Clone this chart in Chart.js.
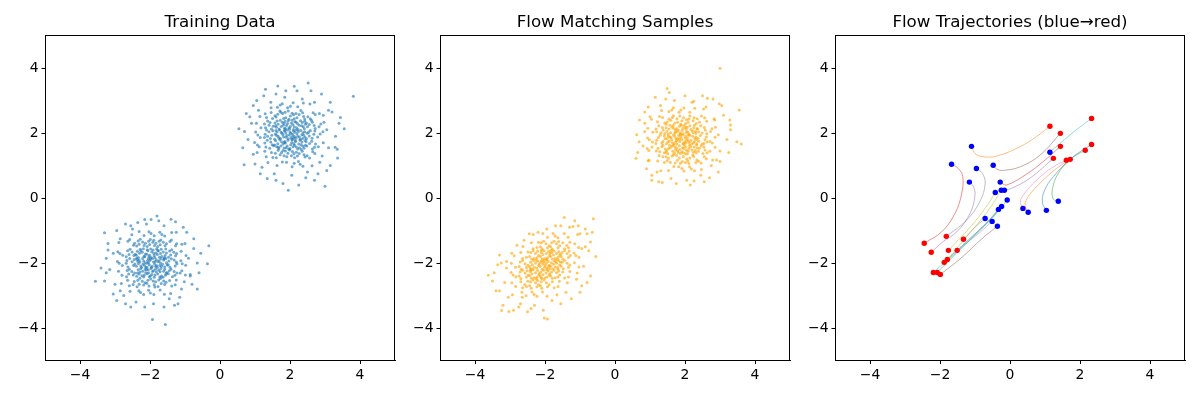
<!DOCTYPE html>
<html><head><meta charset="utf-8">
<script src="https://cdn.jsdelivr.net/npm/chart.js@4.4.1/dist/chart.umd.min.js"></script>
<style>
body{margin:0;background:#fff;width:1200px;height:400px;overflow:hidden;position:relative;font-family:'DejaVu Sans',sans-serif}
.p{position:absolute;top:0;width:400px;height:400px}
.p canvas{position:absolute;left:0;top:0}
.t{position:absolute;left:45px;width:350px;top:11px;text-align:center;font-size:16.7px;line-height:20px;color:#000;white-space:nowrap}
.f{position:absolute;left:45px;top:35px;width:350px;height:326px;border:1px solid #000;box-sizing:border-box;pointer-events:none}
</style></head><body>
<div class="p" style="left:0"><canvas id="c1" width="400" height="400"></canvas><div class="f"></div><div class="t" id="t1"></div></div>
<div class="p" style="left:395px"><canvas id="c2" width="400" height="400"></canvas><div class="f"></div><div class="t" id="t2"></div></div>
<div class="p" style="left:790px"><canvas id="c3" width="400" height="400"></canvas><div class="f"></div><div class="t" id="t3"></div></div>
<script>
const titles = ['Training Data', 'Flow Matching Samples', 'Flow Trajectories (blue\u2192red)'];
const tickValues = [-4, -2, 0, 2, 4];
const axisMin = -5, axisMax = 5;

const trainUpper = [
[1.88,2.00],[2.03,1.86],[2.10,2.06],[1.95,1.82],[2.07,1.97],[1.91,1.92],[2.13,1.89],[2.00,2.03],[1.98,1.94],[2.05,1.81],[1.86,2.08],[2.11,1.84],[1.93,2.09],[2.02,1.99],[2.08,1.91],[1.89,1.87],[2.14,2.02],
[2.20,1.98],[2.36,1.83],[2.42,2.04],[2.27,1.88],[2.31,2.08],[2.17,1.84],[2.39,1.93],[2.24,2.05],[2.34,1.95],[2.29,1.81],[2.43,1.87],[2.22,1.90],[2.37,2.01],[2.18,2.09],
[1.58,1.97],[1.73,1.83],[1.84,2.06],[1.66,1.90],[1.70,2.09],[1.56,1.81],[1.80,1.95],[1.63,2.03],[1.77,1.99],[1.68,1.85],[1.82,1.88],[1.61,1.93],[1.75,2.02],[1.60,2.08],
[1.87,2.14],[2.04,2.31],[2.12,2.19],[1.95,2.38],[1.99,2.12],[2.08,2.26],[1.90,2.23],[2.14,2.35],[2.01,2.20],[1.93,2.29],[2.10,2.11],[1.86,2.36],[2.06,2.39],[1.97,2.16],
[1.89,1.55],[2.05,1.71],[2.13,1.62],[1.94,1.78],[2.00,1.52],[2.09,1.58],[1.87,1.69],[2.15,1.76],[2.02,1.64],[1.92,1.60],[2.07,1.79],[1.96,1.51],[1.85,1.74],[2.11,1.67],
[2.19,2.16],[2.35,2.32],[2.41,2.13],[2.26,2.24],[2.30,2.38],[2.44,2.27],[2.17,2.34],[2.38,2.19],[2.23,2.11],[2.33,2.22],[2.42,2.36],[2.21,2.29],
[1.61,2.18],[1.78,2.33],[1.84,2.14],[1.66,2.27],[1.72,2.39],[1.57,2.31],[1.81,2.24],[1.69,2.12],[1.75,2.20],[1.63,2.37],[1.83,2.30],[1.59,2.22],
[2.18,1.57],[2.34,1.72],[2.40,1.53],[2.25,1.66],[2.29,1.78],[2.44,1.62],[2.16,1.74],[2.37,1.59],[2.22,1.51],[2.32,1.64],[2.43,1.77],[2.27,1.55],
[1.62,1.58],[1.76,1.73],[1.83,1.54],[1.65,1.67],[1.71,1.79],[1.56,1.63],[1.80,1.66],[1.68,1.52],[1.74,1.60],[1.59,1.76],[1.84,1.71],[1.67,1.56],
[2.49,1.99],[2.63,1.84],[2.71,2.06],[2.55,1.91],[2.58,2.08],[2.47,1.82],[2.68,1.96],[2.53,2.02],
[1.29,1.96],[1.44,1.83],[1.51,2.07],[1.36,1.90],[1.40,2.04],[1.27,1.86],[1.48,1.93],[1.33,2.09],
[1.88,2.47],[2.06,2.61],[2.12,2.44],[1.95,2.68],[2.01,2.52],[1.86,2.64],[2.10,2.56],[1.97,2.42],
[1.91,1.27],[2.07,1.43],[2.13,1.24],[1.94,1.38],[1.99,1.48],[2.04,1.30],[1.87,1.45],[2.11,1.36],
[2.50,2.19],[2.64,2.33],[2.72,2.14],[2.55,2.26],[2.61,2.39],[2.47,2.31],[2.69,2.23],
[2.48,1.60],[2.62,1.75],[2.70,1.56],[2.56,1.68],[2.64,1.51],[2.46,1.73],[2.73,1.66],
[1.30,2.16],[1.43,2.32],[1.52,2.21],[1.36,2.37],[1.47,2.12],[1.27,2.28],[1.40,2.24],
[1.31,1.57],[1.45,1.72],[1.53,1.61],[1.35,1.78],[1.42,1.53],[1.28,1.69],[1.49,1.64],
[2.20,2.47],[2.36,2.62],[2.42,2.43],[2.26,2.57],[2.31,2.69],[2.17,2.60],[2.39,2.51],
[1.60,2.49],[1.74,2.64],[1.82,2.45],[1.65,2.58],[1.71,2.68],[1.57,2.53],[1.79,2.60],
[2.21,1.29],[2.35,1.44],[2.43,1.26],[2.26,1.37],[2.32,1.49],[2.18,1.41],[2.40,1.33],
[1.61,1.24],[1.76,1.40],[1.83,1.30],[1.66,1.47],[1.72,1.33],[1.58,1.38],[1.80,1.46],
[2.51,2.50],[2.66,2.62],[2.58,2.44],[2.72,2.57],[1.33,2.48],[1.46,2.63],[1.29,2.59],[1.50,2.45],
[2.49,1.30],[2.65,1.42],[2.56,1.23],[2.71,1.37],[1.32,1.27],[1.47,1.40],[1.28,1.44],[1.51,1.25],
[2.79,1.88],[2.94,2.04],[2.86,1.97],[1.02,2.03],[1.15,1.86],[1.08,1.94],[1.93,2.78],[2.09,2.93],[2.01,2.82],[1.90,1.10],[2.06,0.96],[2.12,1.07],
[2.83,2.19],[2.97,2.33],[2.88,2.28],[2.81,1.58],[2.95,1.70],[1.04,2.30],[1.17,2.16],[1.12,1.58],[0.99,1.71],[1.07,1.63],
[2.22,2.81],[2.38,2.92],[1.64,2.79],[1.78,2.90],[1.72,2.86],[2.24,1.12],[2.37,0.98],[2.29,1.04],[1.63,1.00],[1.78,1.11],
[2.84,2.60],[2.92,1.29],[1.14,2.51],[1.06,1.40],[2.57,2.89],[1.46,2.78],[2.63,0.99],[1.37,1.09],
[3.05,2.10],[2.95,2.55],[2.70,2.95],[2.35,3.05],[1.85,3.10],[1.45,2.95],[1.10,2.70],[0.90,2.30],[0.80,1.80],[0.95,1.35],[1.20,0.95],[1.55,0.75],[2.05,0.70],[2.50,0.80],[2.85,1.10],[3.10,1.55],[3.30,1.90],[3.20,2.65],[2.90,3.20],[2.20,3.30],
[1.60,3.20],[1.05,3.00],[0.75,2.60],[0.65,1.55],[1.00,1.05],[1.35,0.60],[1.80,0.45],[2.70,0.55],[3.05,0.85],[3.35,1.50],[2.60,3.30],[1.30,3.35],[0.95,2.85],[3.40,2.30],[2.25,0.40],[1.15,0.75],[3.15,2.95],[0.70,2.05],[2.80,0.75],[1.65,3.45],
[2.52,3.54],[3.81,3.13],[2.12,3.44],[0.54,2.13],[0.69,1.02],[3.00,0.36],[1.95,0.24],[3.55,2.13],[3.44,2.48],[3.36,1.23],[3.29,1.56],[1.88,3.30],[1.25,3.15],[2.45,0.62],[1.60,0.55],[3.10,2.70],[0.85,2.50],[3.15,1.00]
];
const trainLower = [
[-2.07,-1.93],[-1.84,-2.11],[-1.99,-1.88],[-2.02,-2.06],[-1.90,-1.97],[-2.09,-2.13],[-1.82,-1.90],[-1.96,-2.14],[-2.04,-1.99],[-1.87,-2.03],[-1.93,-1.86],[-2.08,-2.01],[-1.81,-2.08],[-2.00,-1.92],[-1.94,-2.10],[-1.85,-1.95],[-2.05,-1.87],
[-1.77,-1.96],[-1.58,-2.12],[-1.69,-1.87],[-1.53,-1.99],[-1.72,-2.08],[-1.61,-1.91],[-1.79,-2.14],[-1.64,-2.04],[-1.55,-1.86],[-1.74,-1.93],[-1.67,-2.10],[-1.51,-2.06],[-1.70,-2.00],[-1.60,-1.88],
[-2.37,-1.89],[-2.16,-2.07],[-2.29,-1.97],[-2.12,-2.13],[-2.33,-2.02],[-2.21,-1.86],[-2.39,-2.10],[-2.18,-1.94],[-2.26,-2.09],[-2.14,-1.99],[-2.31,-1.91],[-2.24,-2.14],[-2.35,-1.95],[-2.20,-2.03],
[-2.06,-1.62],[-1.88,-1.78],[-1.98,-1.57],[-1.83,-1.69],[-2.03,-1.81],[-1.91,-1.60],[-2.09,-1.73],[-1.86,-1.84],[-1.95,-1.66],[-2.01,-1.76],[-1.81,-1.56],[-1.97,-1.83],[-2.08,-1.59],[-1.89,-1.71],
[-2.05,-2.21],[-1.86,-2.37],[-1.97,-2.17],[-1.82,-2.28],[-2.02,-2.42],[-1.90,-2.24],[-2.08,-2.33],[-1.84,-2.19],[-1.99,-2.40],[-1.93,-2.26],[-2.10,-2.20],[-1.88,-2.44],[-2.04,-2.30],[-1.95,-2.35],
[-1.76,-1.63],[-1.57,-1.77],[-1.68,-1.58],[-1.53,-1.69],[-1.73,-1.82],[-1.62,-1.66],[-1.79,-1.74],[-1.59,-1.84],[-1.70,-1.71],[-1.55,-1.57],[-1.66,-1.80],[-1.78,-1.61],
[-2.36,-1.64],[-2.17,-1.79],[-2.28,-1.58],[-2.13,-1.72],[-2.33,-1.83],[-2.22,-1.67],[-2.39,-1.76],[-2.19,-1.56],[-2.30,-1.70],[-2.15,-1.81],[-2.26,-1.62],[-2.38,-1.85],
[-1.75,-2.22],[-1.56,-2.38],[-1.69,-2.17],[-1.52,-2.29],[-1.72,-2.43],[-1.61,-2.25],[-1.78,-2.34],[-1.58,-2.19],[-1.67,-2.40],[-1.54,-2.32],[-1.71,-2.27],[-1.63,-2.44],
[-2.34,-2.21],[-2.16,-2.37],[-2.27,-2.18],[-2.12,-2.29],[-2.38,-2.41],[-2.21,-2.25],[-2.31,-2.34],[-2.18,-2.43],[-2.29,-2.28],[-2.14,-2.20],[-2.36,-2.31],[-2.23,-2.39],
[-1.46,-1.94],[-1.28,-2.09],[-1.39,-1.87],[-1.23,-2.02],[-1.43,-2.13],[-1.31,-1.91],[-1.48,-2.05],[-1.25,-1.97],
[-2.66,-1.92],[-2.47,-2.08],[-2.58,-1.86],[-2.43,-2.03],[-2.63,-2.12],[-2.51,-1.96],[-2.68,-2.01],[-2.45,-1.89],
[-2.04,-1.33],[-1.87,-1.46],[-1.99,-1.28],[-1.83,-1.39],[-2.08,-1.49],[-1.92,-1.36],[-2.01,-1.43],[-1.89,-1.30],
[-2.06,-2.53],[-1.88,-2.67],[-1.98,-2.49],[-1.84,-2.58],[-2.03,-2.71],[-1.91,-2.55],[-2.09,-2.62],[-1.86,-2.74],
[-1.44,-1.63],[-1.27,-1.78],[-1.38,-1.59],[-1.24,-1.71],[-1.47,-1.82],[-1.32,-1.67],[-1.41,-1.75],
[-1.45,-2.24],[-1.29,-2.38],[-1.40,-2.19],[-1.23,-2.31],[-1.36,-2.42],[-1.48,-2.33],[-1.31,-2.26],
[-2.64,-1.62],[-2.46,-1.77],[-2.57,-1.58],[-2.42,-1.73],[-2.68,-1.81],[-2.51,-1.66],[-2.60,-1.74],
[-2.65,-2.23],[-2.48,-2.37],[-2.59,-2.19],[-2.44,-2.31],[-2.67,-2.42],[-2.52,-2.26],[-2.61,-2.34],
[-1.74,-1.33],[-1.57,-1.47],[-1.69,-1.29],[-1.53,-1.41],[-1.78,-1.49],[-1.62,-1.36],[-1.71,-1.44],
[-2.34,-1.32],[-2.17,-1.46],[-2.28,-1.27],[-2.13,-1.39],[-2.38,-1.48],[-2.21,-1.35],[-2.31,-1.42],
[-1.75,-2.52],[-1.58,-2.66],[-1.70,-2.48],[-1.54,-2.59],[-1.77,-2.72],[-1.61,-2.55],[-1.68,-2.63],
[-2.35,-2.53],[-2.18,-2.68],[-2.29,-2.47],[-2.14,-2.61],[-2.37,-2.73],[-2.22,-2.56],[-2.31,-2.65],
[-1.43,-1.34],[-1.27,-1.47],[-1.39,-1.29],[-1.24,-1.41],[-2.63,-1.33],[-2.47,-1.45],[-2.58,-1.28],[-2.44,-1.39],
[-1.44,-2.54],[-1.28,-2.67],[-1.38,-2.71],[-1.25,-2.52],[-2.64,-2.53],[-2.48,-2.66],[-2.59,-2.70],[-2.45,-2.57],
[-1.12,-1.93],[-0.98,-2.07],[-1.08,-2.02],[-2.93,-1.95],[-2.79,-2.08],[-2.88,-2.01],[-2.03,-1.04],[-1.88,-1.16],[-1.97,-1.09],[-2.04,-2.84],[-1.89,-2.97],[-1.99,-2.92],
[-1.11,-1.64],[-0.97,-1.77],[-1.09,-2.24],[-0.99,-2.37],[-1.14,-2.31],[-2.92,-1.65],[-2.78,-1.76],[-2.86,-1.71],[-2.90,-2.25],[-2.80,-2.38],
[-1.72,-1.05],[-1.58,-1.17],[-1.66,-1.12],[-2.31,-1.03],[-2.17,-1.15],[-1.71,-2.83],[-1.59,-2.96],[-2.32,-2.85],[-2.18,-2.97],[-2.27,-2.91],
[-1.09,-1.42],[-1.02,-2.58],[-2.89,-1.37],[-2.82,-2.63],[-1.38,-1.06],[-2.52,-1.13],[-1.41,-2.94],[-2.57,-2.87],
[-0.90,-1.85],[-1.00,-1.40],[-1.25,-1.05],[-1.60,-0.85],[-2.10,-0.80],[-2.50,-0.95],[-2.85,-1.25],[-3.05,-1.70],[-3.15,-2.20],[-3.00,-2.65],[-2.75,-3.00],[-2.40,-3.20],[-1.90,-3.25],[-1.45,-3.10],[-1.10,-2.80],[-0.85,-2.35],[-0.65,-2.00],[-0.75,-1.25],[-1.05,-0.90],[-1.75,-0.70],
[-2.35,-0.75],[-2.95,-1.00],[-3.25,-1.85],[-3.30,-2.55],[-2.95,-3.15],[-2.15,-3.35],[-1.60,-3.35],[-1.15,-3.05],[-0.80,-2.65],[-0.55,-1.70],[-1.40,-0.65],[-2.70,-0.80],[-3.20,-1.40],[-0.60,-2.30],[-2.55,-3.35],[-1.30,-3.30],[-3.40,-2.15],[-0.95,-1.05],[-2.85,-2.85],[-1.80,-0.55],
[-3.56,-2.56],[-1.93,-3.74],[-1.56,-3.89],[-0.36,-2.02],[-0.32,-1.47],[-2.15,-0.66],[-1.97,-0.66],[-1.27,-0.73],[-3.30,-1.07],[-0.65,-2.80],[-2.70,-3.25],[-3.25,-2.30],[-0.75,-1.55],[-1.20,-3.25],[-2.55,-0.85],[-3.05,-2.95],[-0.85,-2.40],[-3.20,-1.60]
];
const flowUpper = [
[1.79,1.83],[1.96,1.68],[2.02,1.91],[1.85,1.74],[1.93,1.94],[1.77,1.66],[2.04,1.78],[1.88,1.87],[1.99,1.72],[1.82,1.92],[1.91,1.80],[2.00,1.85],[1.76,1.77],[1.94,1.67],[1.87,1.95],[2.03,1.70],[1.84,1.81],
[2.09,1.76],[2.24,1.69],[2.31,1.88],[2.14,1.93],[2.27,1.74],[2.07,1.85],[2.19,1.66],[2.33,1.80],[2.12,1.71],[2.22,1.90],[2.28,1.83],[2.17,1.78],[2.34,1.67],[2.10,1.94],
[1.49,1.83],[1.64,1.70],[1.71,1.90],[1.55,1.75],[1.67,1.94],[1.47,1.67],[1.60,1.86],[1.73,1.72],[1.52,1.91],[1.62,1.79],[1.69,1.66],[1.57,1.88],[1.74,1.82],[1.51,1.72],
[1.78,2.04],[1.95,1.98],[2.01,2.17],[1.84,2.21],[1.92,2.08],[1.76,2.14],[2.04,2.02],[1.87,1.97],[1.98,2.23],[1.81,2.09],[1.94,2.15],[2.03,2.11],[1.86,2.00],[1.90,2.24],
[1.79,1.45],[1.95,1.39],[2.02,1.58],[1.84,1.61],[1.91,1.42],[1.76,1.53],[2.04,1.47],[1.87,1.37],[1.98,1.63],[1.81,1.40],[1.93,1.55],[2.01,1.36],[1.85,1.49],[1.97,1.52],
[2.08,2.03],[2.25,2.16],[2.31,1.99],[2.14,2.22],[2.21,2.07],[2.34,2.13],[2.11,1.97],[2.27,2.24],[2.17,2.11],[2.30,2.05],[2.06,2.18],[2.23,2.01],
[1.48,2.05],[1.63,2.18],[1.71,1.99],[1.54,2.12],[1.66,2.23],[1.46,2.16],[1.59,2.01],[1.74,2.09],[1.52,1.97],[1.68,2.14],[1.57,2.24],[1.72,2.04],
[2.09,1.44],[2.26,1.57],[2.32,1.39],[2.13,1.62],[2.20,1.48],[2.35,1.54],[2.07,1.36],[2.24,1.41],[2.16,1.58],[2.29,1.46],[2.11,1.52],[2.33,1.63],
[1.48,1.46],[1.63,1.59],[1.70,1.38],[1.53,1.52],[1.67,1.63],[1.46,1.41],[1.58,1.55],[1.73,1.48],[1.51,1.36],[1.65,1.44],[1.56,1.62],[1.72,1.57],
[2.39,1.75],[2.54,1.68],[2.61,1.88],[2.44,1.92],[2.57,1.79],[2.37,1.84],[2.49,1.66],[2.63,1.72],
[1.19,1.78],[1.34,1.69],[1.41,1.91],[1.24,1.86],[1.37,1.74],[1.17,1.68],[1.29,1.93],[1.43,1.82],
[1.79,2.33],[1.96,2.47],[2.02,2.29],[1.85,2.52],[1.91,2.38],[1.77,2.44],[2.04,2.41],[1.88,2.27],
[1.78,1.16],[1.95,1.28],[2.01,1.09],[1.84,1.23],[1.92,1.12],[1.76,1.31],[2.05,1.20],[1.87,1.07],
[2.39,2.04],[2.55,2.17],[2.62,1.98],[2.45,2.22],[2.58,2.09],[2.36,2.13],[2.49,2.00],
[2.38,1.44],[2.54,1.57],[2.63,1.39],[2.46,1.61],[2.57,1.48],[2.41,1.53],[2.51,1.37],
[1.19,2.04],[1.35,2.17],[1.42,1.98],[1.25,2.22],[1.38,2.09],[1.17,2.12],[1.31,2.01],
[1.18,1.45],[1.34,1.58],[1.41,1.39],[1.23,1.53],[1.37,1.62],[1.28,1.42],[1.44,1.51],
[2.09,2.33],[2.26,2.47],[2.32,2.29],[2.14,2.52],[2.23,2.38],[2.35,2.44],[2.11,2.43],
[1.49,2.34],[1.64,2.48],[1.71,2.30],[1.54,2.43],[1.67,2.53],[1.46,2.27],[1.59,2.39],
[2.08,1.14],[2.25,1.28],[2.31,1.09],[2.14,1.23],[2.22,1.32],[2.34,1.17],[2.11,1.06],
[1.49,1.15],[1.63,1.29],[1.72,1.08],[1.53,1.22],[1.67,1.33],[1.46,1.27],[1.58,1.10],
[2.41,2.33],[2.56,2.47],[2.47,2.52],[2.62,2.36],[1.21,2.35],[1.36,2.48],[1.27,2.51],[1.42,2.31],
[2.39,1.13],[2.55,1.27],[2.46,1.08],[2.61,1.21],[1.22,1.14],[1.37,1.27],[1.26,1.31],[1.41,1.09],
[2.71,1.74],[2.86,1.87],[2.78,1.69],[0.93,1.85],[1.07,1.72],[0.98,1.79],[1.83,2.64],[1.97,2.77],[1.88,2.71],[1.82,0.96],[1.97,0.83],[1.91,0.91],
[2.73,2.05],[2.87,2.18],[2.77,2.13],[2.71,1.44],[2.86,1.56],[0.94,2.15],[1.08,2.02],[0.97,1.46],[1.06,1.57],[0.92,1.52],
[2.14,2.64],[2.28,2.76],[1.54,2.66],[1.67,2.78],[1.62,2.71],[2.13,0.96],[2.27,0.84],[2.18,0.89],[1.53,0.85],[1.68,0.97],
[2.83,2.44],[2.79,1.17],[1.04,2.42],[0.97,1.16],[2.53,2.74],[1.33,2.69],[2.47,0.88],[1.31,0.84],
[2.95,1.95],[2.85,2.40],[2.60,2.80],[2.20,2.95],[1.70,3.00],[1.30,2.85],[1.00,2.50],[0.85,2.05],[0.80,1.60],[0.95,1.15],[1.20,0.80],[1.60,0.60],[2.05,0.55],[2.45,0.70],[2.75,1.00],[3.00,1.45],[3.20,1.80],[3.10,2.55],[2.80,3.05],[2.00,3.15],
[1.45,3.05],[0.95,2.80],[0.70,2.40],[0.65,1.40],[0.90,0.90],[1.25,0.50],[1.75,0.45],[2.55,0.50],[2.95,0.80],[3.25,1.40],[2.50,3.15],[1.15,3.10],[0.85,2.65],[3.30,2.10],[2.15,0.40],[1.05,0.70],[3.05,2.85],[0.62,1.95],[2.70,0.62],[1.55,3.25],
[3.00,3.99],[1.49,3.37],[3.55,2.71],[3.61,1.66],[3.48,1.73],[0.60,1.22],[0.69,1.73],[2.64,3.07],[2.90,1.17],[3.30,2.25],[3.28,2.40],[2.25,2.98],[1.05,0.55],[1.35,0.48],[2.26,0.52],[3.00,1.12],[0.85,2.30],[2.98,2.90]
];
const flowLower = [
[-2.12,-1.98],[-1.94,-2.16],[-2.03,-1.92],[-1.88,-2.07],[-2.08,-2.19],[-1.97,-2.01],[-2.14,-2.11],[-1.91,-1.95],[-2.01,-2.13],[-1.86,-2.18],[-2.06,-2.04],[-1.95,-1.91],[-2.10,-1.93],[-1.89,-2.10],[-1.99,-2.08],[-2.04,-1.97],
[-1.82,-1.99],[-1.64,-2.14],[-1.73,-1.93],[-1.58,-2.06],[-1.78,-2.18],[-1.67,-2.01],[-1.84,-2.10],[-1.61,-1.92],[-1.71,-2.12],[-1.56,-1.97],[-1.76,-2.04],[-1.63,-2.19],[-1.69,-1.96],
[-2.41,-1.98],[-2.24,-2.15],[-2.33,-1.92],[-2.18,-2.07],[-2.38,-2.19],[-2.27,-2.00],[-2.44,-2.11],[-2.21,-1.94],[-2.31,-2.13],[-2.16,-2.02],[-2.36,-2.05],[-2.25,-1.91],[-2.42,-2.17],
[-2.11,-1.68],[-1.93,-1.84],[-2.03,-1.62],[-1.87,-1.77],[-2.08,-1.88],[-1.96,-1.71],[-2.13,-1.80],[-1.90,-1.64],[-2.01,-1.86],[-1.86,-1.70],[-2.06,-1.74],[-1.95,-1.89],[-2.10,-1.61],
[-2.12,-2.28],[-1.94,-2.43],[-2.04,-2.22],[-1.88,-2.37],[-2.09,-2.48],[-1.97,-2.31],[-2.14,-2.40],[-1.91,-2.24],[-2.00,-2.46],[-1.86,-2.33],[-2.06,-2.36],[-1.95,-2.21],[-2.11,-2.45],
[-1.81,-1.68],[-1.63,-1.83],[-1.74,-1.63],[-1.58,-1.77],[-1.79,-1.88],[-1.67,-1.71],[-1.84,-1.80],[-1.61,-1.65],[-1.71,-1.86],[-1.56,-1.72],[-1.76,-1.75],[-1.65,-1.89],[-1.82,-1.61],
[-2.42,-2.27],[-2.23,-2.44],[-2.34,-2.21],[-2.18,-2.36],[-2.39,-2.47],[-2.27,-2.30],[-2.44,-2.39],[-2.21,-2.23],[-2.31,-2.45],[-2.16,-2.32],[-2.37,-2.34],[-2.25,-2.49],[-2.41,-2.22],
[-1.81,-2.28],[-1.63,-2.43],[-1.74,-2.22],[-1.58,-2.37],[-1.79,-2.47],[-1.67,-2.30],[-1.84,-2.40],[-1.61,-2.25],[-1.71,-2.45],
[-2.41,-1.68],[-2.23,-1.84],[-2.34,-1.62],[-2.18,-1.77],[-2.38,-1.88],[-2.27,-1.71],[-2.44,-1.80],[-2.21,-1.64],[-2.31,-1.86],
[-1.51,-1.98],[-1.33,-2.13],[-1.44,-1.92],[-1.29,-2.06],[-1.48,-2.18],[-1.37,-2.01],[-1.54,-2.10],
[-2.71,-1.97],[-2.53,-2.14],[-2.64,-1.93],[-2.49,-2.07],[-2.68,-2.19],[-2.57,-2.02],[-2.74,-2.11],
[-2.11,-1.38],[-1.93,-1.53],[-2.04,-1.33],[-1.88,-1.47],[-2.08,-1.57],[-1.97,-1.41],[-2.13,-1.50],
[-2.11,-2.58],[-1.93,-2.73],[-2.03,-2.52],[-1.88,-2.67],[-2.09,-2.78],[-1.96,-2.61],[-2.13,-2.70],
[-1.51,-1.68],[-1.33,-1.83],[-1.44,-1.62],[-1.28,-1.77],[-1.49,-1.88],[-1.37,-1.71],[-1.54,-1.80],[-1.31,-1.64],
[-1.81,-1.38],[-1.63,-1.53],[-1.74,-1.33],[-1.58,-1.47],[-1.79,-1.58],[-1.67,-1.41],[-1.84,-1.50],[-1.61,-1.34],
[-2.71,-2.28],[-2.53,-2.43],[-2.64,-2.22],[-2.48,-2.37],[-2.69,-2.48],[-2.57,-2.31],[-2.74,-2.40],[-2.51,-2.24],
[-2.41,-2.58],[-2.23,-2.73],[-2.34,-2.52],[-2.18,-2.67],[-2.39,-2.78],[-2.27,-2.61],[-2.44,-2.70],[-2.21,-2.54],
[-1.49,-2.28],[-1.33,-2.43],[-1.44,-2.46],[-1.29,-2.26],[-2.39,-1.38],[-2.23,-1.52],[-2.34,-1.56],[-2.19,-1.36],
[-2.69,-1.68],[-2.53,-1.82],[-2.64,-1.86],[-2.49,-1.66],[-1.79,-2.58],[-1.63,-2.72],[-1.74,-2.76],[-1.59,-2.56],
[-1.49,-1.38],[-1.33,-1.53],[-1.44,-1.56],[-1.29,-1.36],[-1.38,-1.46],[-2.69,-2.58],[-2.53,-2.72],[-2.64,-2.76],[-2.49,-2.56],[-2.58,-2.66],
[-1.36,-2.61],[-2.63,-1.49],[-1.16,-1.99],[-1.03,-2.12],[-2.96,-2.01],[-2.84,-2.13],[-2.06,-1.09],[-1.93,-1.21],[-2.07,-2.89],[-1.94,-3.02],
[-1.17,-1.69],[-1.03,-1.82],[-1.12,-1.77],[-1.77,-1.09],[-1.63,-1.22],[-1.71,-1.17],[-2.97,-2.29],[-2.83,-2.42],[-2.91,-2.37],[-2.37,-2.89],[-2.23,-3.02],[-2.31,-2.97],
[-1.08,-2.31],[-2.34,-1.12],[-2.88,-1.78],[-1.66,-2.98],[-1.15,-1.41],[-1.04,-1.52],[-1.45,-1.09],[-1.34,-1.21],[-2.95,-2.61],[-2.84,-2.72],[-2.66,-2.90],[-2.54,-3.01],[-1.07,-1.12],[-2.93,-2.98],
[-0.95,-1.55],[-1.00,-1.10],[-1.30,-0.90],[-1.70,-0.85],[-2.20,-1.05],[-2.60,-1.30],[-2.95,-1.70],[-3.10,-2.15],[-3.15,-2.60],[-3.05,-3.05],[-2.70,-3.25],[-2.30,-3.30],[-1.80,-3.15],[-1.40,-2.90],[-1.10,-2.50],[-0.90,-2.10],[-0.70,-1.35],[-0.85,-0.95],[-1.15,-0.70],[-1.95,-0.95],
[-2.45,-1.10],[-3.25,-2.00],[-3.40,-2.85],[-3.20,-3.30],[-2.50,-3.50],[-1.55,-3.25],[-1.00,-2.90],[-0.70,-2.40],[-0.55,-1.80],[-1.45,-0.60],[-2.80,-1.45],[-3.45,-2.30],[-2.05,-3.45],[-1.25,-3.10],[-0.65,-1.05],[-2.90,-3.45],[-3.30,-1.75],[-1.05,-0.85],[-2.65,-3.05],[-0.80,-2.60],
[-0.62,-0.64],[-3.24,-3.46],[-3.03,-3.49],[-2.02,-3.69],[-1.93,-3.72],[-3.62,-2.38],[-3.50,-2.55],[-0.85,-1.50],[-0.75,-1.62],[-1.20,-0.88],[-3.30,-2.85],[-2.75,-3.35],[-3.35,-2.05],[-0.95,-2.70],[-1.55,-0.85],[-2.40,-3.40],[-0.80,-1.10],[-3.10,-1.95]
];

// Each trajectory: [x, y] points from start (blue) to end (red)
const trajectories = [
[[-1.10,1.59],[-1.00,1.37],[-0.76,1.27],[-0.38,1.29],[0.29,1.58],[0.76,1.89],[1.14,2.21]],
[[-0.48,1.01],[-0.38,0.89],[-0.19,0.85],[0.29,0.96],[0.86,1.32],[1.44,1.99]],
[[1.14,1.41],[1.45,1.70],[1.85,2.06],[2.33,2.45]],
[[-0.28,0.49],[-0.10,0.40],[0.48,0.74],[0.95,1.12],[1.44,1.59]],
[[-0.16,0.24],[0.05,0.30],[0.57,0.61],[1.24,1.22]],
[[0.37,-0.32],[0.30,-0.11],[0.38,0.09],[0.76,0.55],[1.24,0.96],[1.61,1.16]],
[[0.52,-0.44],[0.43,-0.22],[0.52,0.04],[0.90,0.50],[1.33,0.91],[1.72,1.19]],
[[1.04,-0.38],[0.93,-0.16],[0.97,0.19],[1.24,0.66],[1.81,1.27],[2.33,1.65]],
[[1.38,-0.10],[1.24,-0.04],[1.21,0.25],[1.38,0.76],[1.76,1.22],[2.15,1.47]],
[[-1.67,1.04],[-1.48,0.91],[-1.35,0.66],[-1.38,0.14],[-1.57,-0.47],[-1.95,-1.04],[-2.45,-1.39]],
[[-1.16,0.49],[-1.05,0.37],[-1.00,0.09],[-1.14,-0.47],[-1.52,-1.04],[-1.91,-1.34],[-2.25,-1.67]],
[[-0.96,0.91],[-0.79,0.76],[-0.71,0.45],[-0.86,-0.11],[-1.24,-0.68],[-1.82,-1.18]],
[[-0.42,0.17],[-0.70,-0.30],[-1.10,-0.85],[-1.76,-1.61]],
[[-0.25,0.24],[-0.55,-0.28],[-1.05,-0.95],[-1.79,-1.89]],
[[-0.08,-0.06],[-0.45,-0.55],[-1.20,-1.35],[-2.19,-2.29]],
[[-0.24,-0.26],[-0.60,-0.70],[-1.20,-1.30],[-1.88,-1.98]],
[[-0.33,-0.35],[-0.70,-0.80],[-1.35,-1.50],[-2.08,-2.29]],
[[-0.71,-0.63],[-0.95,-0.85],[-1.33,-1.27]],
[[-0.51,-0.72],[-0.85,-1.05],[-1.51,-1.61]],
[[-0.36,-0.87],[-0.80,-1.25],[-1.40,-1.85],[-1.99,-2.35]]
];
// line colours (style)
const trajColors = ['#ff7f0e','#8c564b','#17becf','#d62728','#9467bd','#e377c2','#ff7f0e','#1f77b4','#2ca02c','#d62728',
                    '#9467bd','#7f7f7f','#bcbd22','#bcbd22','#17becf','#1f77b4','#2ca02c','#7f7f7f','#e377c2','#8c564b'];

function hexA(h, a){const r=parseInt(h.slice(1,3),16),g=parseInt(h.slice(3,5),16),b=parseInt(h.slice(5,7),16);return `rgba(${r},${g},${b},${a})`;}
const toXY = arr => arr.map(p => ({x:p[0], y:p[1]}));
const fmt = v => v < 0 ? '\u2212' + Math.abs(v) : String(v);
const FONT = "'DejaVu Sans', sans-serif";

['t1','t2','t3'].forEach((id,i) => { document.getElementById(id).textContent = titles[i]; });

function axis(isX){
  return {
    type:'linear', min:axisMin, max:axisMax,
    afterBuildTicks: s => { s.ticks = tickValues.map(v => ({value:v})); },
    afterFit: s => { if(isX) s.height = 39.5; else s.width = 45; },
    ticks:{ callback: fmt, color:'#000', font:{family:FONT, size:13.9}, padding:3, maxRotation:0, autoSkip:false },
    grid:{ display:true, drawOnChartArea:false, drawTicks:true, tickLength:3.5, color:'#000', lineWidth:1 },
    border:{ display:true, color:'#000', width:1 }
  };
}

function opts(){
  return {
    responsive:false, animation:false, events:[], devicePixelRatio:1,
    layout:{ padding:{ left:0, right:5, top:35.5, bottom:0 } },
    plugins:{ legend:{display:false}, tooltip:{enabled:false}, title:{display:false} },
    scales:{ x:axis(true), y:axis(false) }
  };
}

new Chart(document.getElementById('c1'), {
  type:'scatter',
  data:{ datasets:[{ data: toXY(trainUpper.concat(trainLower)), backgroundColor:'rgba(31,119,180,0.62)', borderWidth:0, pointRadius:1.5 }] },
  options: opts()
});

new Chart(document.getElementById('c2'), {
  type:'scatter',
  data:{ datasets:[{ data: toXY(flowUpper.concat(flowLower)), backgroundColor:'rgba(255,165,0,0.62)', borderWidth:0, pointRadius:1.5 }] },
  options: opts()
});

const ds3 = [];
ds3.push({ data: toXY(trajectories.map(t => t[0])), backgroundColor:'#0000ff', borderWidth:0, pointRadius:2.7, order:0 });
ds3.push({ data: toXY(trajectories.map(t => t[t.length-1])), backgroundColor:'#ff0000', borderWidth:0, pointRadius:2.7, order:0 });
trajectories.forEach((t, i) => {
  ds3.push({ data: toXY(t), showLine:true, borderColor: hexA(trajColors[i], 0.5), borderWidth:1, pointRadius:0, tension:0.4, fill:false, order:1 });
});
new Chart(document.getElementById('c3'), { type:'scatter', data:{ datasets: ds3 }, options: opts() });
</script>
</body></html>
